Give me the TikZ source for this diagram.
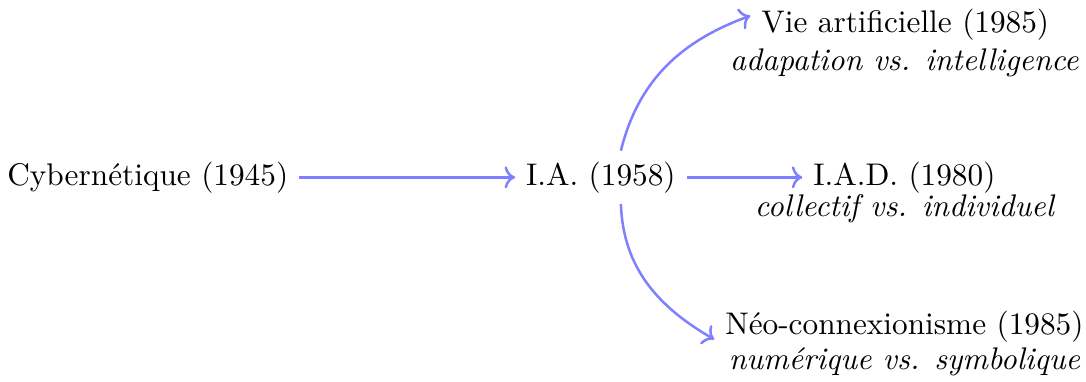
\documentclass[tikz,border=0pt]{standalone}
\usepackage{tikz}
\usetikzlibrary{arrows.meta,positioning}
\definecolor{linkblue}{HTML}{7F7FFF}
\tikzset{
  era/.style={anchor=base, align=center, inner sep=3.33pt},
  motto/.style={anchor=base, align=center, inner sep=1pt, font=\itshape},
  link/.style={->, thick, draw=linkblue}
}
\begin{document}
\begin{tikzpicture}
  \useasboundingbox (0,0) rectangle (12.2,4.29);

  \node[era] (cyb) at (1.66,2.21) {Cybern\'etique (1945)};
  \node[era] (ia) at (6.75,2.21) {I.A. (1958)};

  \node[era] (vie) at (10.17,3.92) {Vie artificielle (1985)};
  \node[motto] (viesub) at (10.16,3.50) {adapation vs. intelligence};

  \node[era] (iad) at (10.16,2.21) {I.A.D. (1980)};
  \node[motto] (iadsub) at (10.16,1.86) {collectif vs. individuel};

  \node[era] (neo) at (10.16,0.53) {N\'eo-connexionisme (1985)};
  \node[motto] (neosub) at (10.16,0.135) {num\'erique vs. symbolique};

  \draw[link] (cyb) -- (ia);
  \draw[link] (ia) -- (iad);
  \draw[link] ([xshift=6.4pt]ia.north) to[out=76,in=200] ([yshift=3pt]vie.west);
  \draw[link] ([xshift=6.4pt]ia.south) to[out=-88,in=150] ([yshift=-4pt]neo.west);
\end{tikzpicture}
\end{document}
